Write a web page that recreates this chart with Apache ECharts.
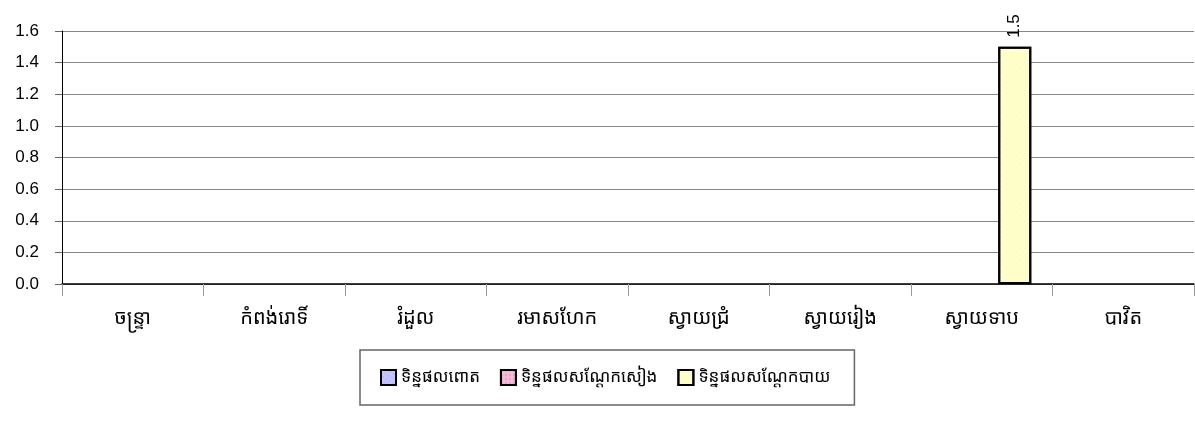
<!DOCTYPE html>
<html>
<head>
<meta charset="utf-8">
<script src="https://cdn.jsdelivr.net/npm/echarts@6/dist/echarts.min.js"></script>
<style>
  html, body { margin: 0; padding: 0; background: #fff; }
  #main { width: 1195px; height: 432px; }
</style>
</head>
<body>
<div id="main"></div>
<script>
// districts
var categories = ['ចន្ទ្រា', 'កំពង់រោទិ៍', 'រំដួល', 'រមាសហែក', 'ស្វាយជ្រំ', 'ស្វាយរៀង', 'ស្វាយទាប', 'បាវិត'];
var seriesNames = ['ទិន្នផលពោត', 'ទិន្នផលសណ្តែកសៀង', 'ទិន្នផលសណ្តែកបាយ'];
var cornYield = [null, null, null, null, null, null, null, null];
var soyYield = [null, null, null, null, null, null, null, null];
var mungYield = [null, null, null, null, null, null, 1.5, null];

var khmerFont = '"Khmer OS", "Noto Sans Khmer", "Khmer OS System", "Noto Serif Khmer", sans-serif';
var colors = ['#c4c4ff', '#f2bcd8', '#ffffcc'];
var dotColors = ['#8080ff', '#d04080', '#f0f0a0'];

var myChart = echarts.init(document.getElementById('main'));

var makeSeries = function (i, data) {
    return {
        name: seriesNames[i],
        type: 'bar',
        data: data,
        barGap: 0,
        barCategoryGap: '30%',
        itemStyle: {
            color: colors[i],
            borderColor: '#000',
            borderWidth: 2,
            decal: {
                symbol: 'circle',
                symbolSize: 0.5,
                color: dotColors[i],
                dashArrayX: [2, 2],
                dashArrayY: [2, 2]
            }
        },
        label: {
            show: true,
            position: 'top',
            rotate: 90,
            align: 'left',
            verticalAlign: 'middle',
            distance: 9,
            fontFamily: 'Liberation Sans, Arial, sans-serif',
            fontSize: 17,
            color: '#000',
            formatter: function (p) { return p.value == null ? '' : p.value.toFixed(1); }
        }
    };
};

var option = {
    animation: false,
    aria: { enabled: true, decal: { show: true } },
    grid: { left: 62, right: 1, top: 31, bottom: 148 },
    legend: {
        data: seriesNames,
        bottom: 27,
        left: 360,
        padding: [19, 24, 19, 20],
        borderColor: '#666',
        borderWidth: 1.5,
        icon: 'rect',
        itemWidth: 15,
        itemHeight: 15,
        itemGap: 20,
        textStyle: { fontFamily: khmerFont, fontSize: 17, color: '#000' }
    },
    xAxis: {
        type: 'category',
        data: categories,
        axisLine: { lineStyle: { color: '#000', width: 1.5 } },
        axisTick: { show: true, interval: 0, length: 12, lineStyle: { color: '#999' } },
        axisLabel: {
            interval: 0,
            margin: 24,
            fontFamily: khmerFont,
            fontSize: 20,
            color: '#000'
        }
    },
    yAxis: {
        type: 'value',
        min: 0,
        max: 1.6,
        interval: 0.2,
        axisLine: { show: true, lineStyle: { color: '#000', width: 1 } },
        axisTick: { show: true, length: 7, lineStyle: { color: '#666' } },
        splitLine: { lineStyle: { color: '#888', width: 1 } },
        axisLabel: {
            margin: 23,
            fontFamily: 'Liberation Sans, Arial, sans-serif',
            fontSize: 17,
            color: '#000',
            formatter: function (v) { return v.toFixed(1); }
        }
    },
    series: [
        makeSeries(0, cornYield),
        makeSeries(1, soyYield),
        makeSeries(2, mungYield)
    ]
};
option && myChart.setOption(option);
</script>
</body>
</html>
